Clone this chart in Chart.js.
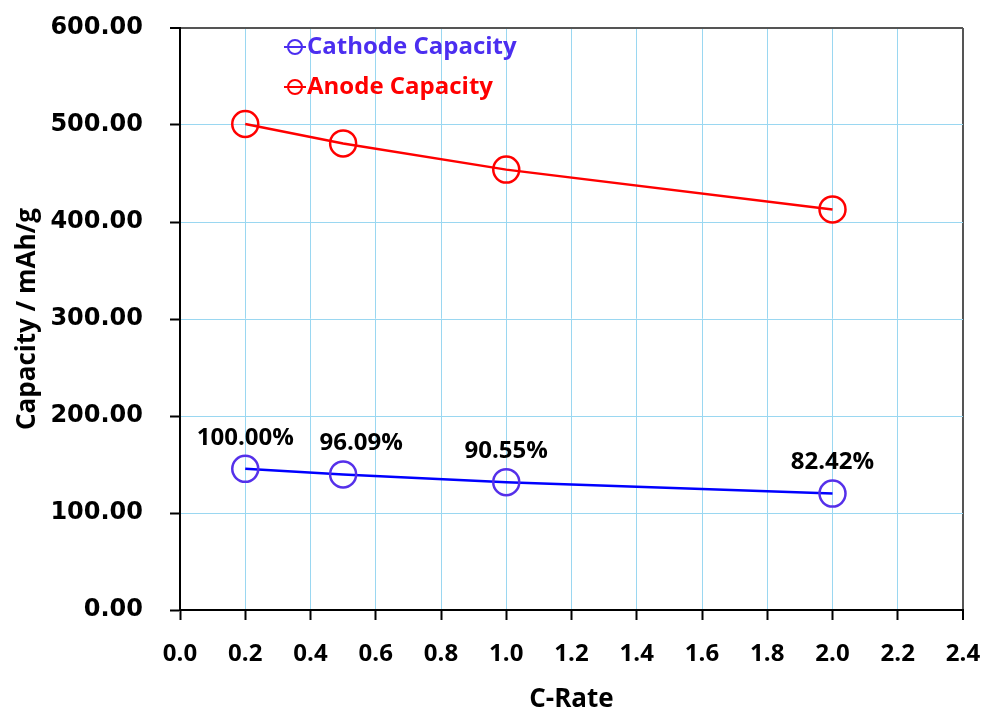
<!DOCTYPE html>
<html>
<head>
<meta charset="utf-8">
<script src="https://cdn.jsdelivr.net/npm/chart.js@4"></script>
<style>
    html, body { margin: 0; padding: 0; background: #fff; }
    #wrap { width: 987px; height: 711px; }
</style>
</head>
<body>
<div id="wrap"><canvas id="rateChart" width="987" height="711"></canvas></div>
<script>
// data
const cRate = [0.2, 0.5, 1.0, 2.0];
const cathodeCapacity = [145.5, 139.8, 131.8, 120.0];
const anodeCapacity = [501, 481, 454, 413];
const retentionLabels = ['100.00%', '96.09%', '90.55%', '82.42%'];
const seriesNames = ['Cathode Capacity', 'Anode Capacity'];

const xAxisTitle = 'C-Rate';
const yAxisTitle = 'Capacity / mAh/g';

const SANS = "'Open Sans', 'Noto Sans', sans-serif";
const GRID_BLUE = '#9ad7f1';
const BORDER_GREY = '#555555';

// label nudges (style only)
const labelDx = [0, 18, 0, 0];
const LABEL_DY = -31;

function toPoints(xs, ys) {
    return xs.map((x, i) => ({ x: x, y: ys[i] }));
}

// legend drawn inside the plot, like the original
const insideLegend = {
    id: 'insideLegend',
    afterDraw(chart) {
        const ctx = chart.ctx;
        const x0 = 295;
        const rows = [47, 87];
        ctx.save();
        chart.data.datasets.forEach((ds, i) => {
            const y = rows[i];
            ctx.strokeStyle = ds.legendColor;
            ctx.lineWidth = 2;
            ctx.beginPath();
            ctx.moveTo(x0 - 11, y);
            ctx.lineTo(x0 + 11, y);
            ctx.stroke();
            ctx.beginPath();
            ctx.arc(x0, y, 7, 0, Math.PI * 2);
            ctx.stroke();
            ctx.fillStyle = ds.legendColor;
            ctx.font = 'bold 24px ' + SANS;
            ctx.textAlign = 'left';
            ctx.textBaseline = 'middle';
            ctx.fillText(ds.label, x0 + 12, y);
        });
        ctx.restore();
    }
};

const retentionText = {
    id: 'retentionText',
    afterDatasetsDraw(chart) {
        const ctx = chart.ctx;
        const meta = chart.getDatasetMeta(0);
        ctx.save();
        ctx.fillStyle = '#000';
        ctx.font = 'bold 24px ' + SANS;
        ctx.textAlign = 'center';
        ctx.textBaseline = 'middle';
        meta.data.forEach((pt, i) => {
            ctx.fillText(retentionLabels[i], pt.x + labelDx[i], pt.y + LABEL_DY);
        });
        ctx.restore();
    }
};

const canvas = document.querySelector('#rateChart');
const chart = new Chart(canvas, {
    type: 'scatter',
    data: {
        datasets: [
            {
                label: seriesNames[0],
                data: toPoints(cRate, cathodeCapacity),
                showLine: true,
                borderColor: '#0000ff',
                borderWidth: 2.5,
                pointBorderColor: '#5530ea',
                pointBackgroundColor: 'rgba(0,0,0,0)',
                pointRadius: 13,
                pointHoverRadius: 13,
                pointBorderWidth: 2.5,
                legendColor: '#4b2ef0'
            },
            {
                label: seriesNames[1],
                data: toPoints(cRate, anodeCapacity),
                showLine: true,
                borderColor: '#ff0000',
                borderWidth: 2.5,
                pointBorderColor: '#ff0000',
                pointBackgroundColor: 'rgba(0,0,0,0)',
                pointRadius: 13,
                pointHoverRadius: 13,
                pointBorderWidth: 2.5,
                legendColor: '#ff0000'
            }
        ]
    },
    options: {
        responsive: false,
        animation: false,
        layout: { padding: { top: 28, right: 24, left: 0, bottom: 0 } },
        plugins: {
            legend: { display: false },
            tooltip: { enabled: false }
        },
        scales: {
            x: {
                type: 'linear',
                min: 0,
                max: 2.4,
                afterFit: (scale) => {
                    scale.height = 101;
                    scale.paddingLeft = 0;
                    scale.paddingRight = 0;
                },
                border: { display: true, color: '#000', width: 2 },
                grid: {
                    color: (c) => (c.tick && Math.abs(c.tick.value - 2.4) < 1e-9) ? BORDER_GREY : GRID_BLUE,
                    lineWidth: (c) => (c.tick && Math.abs(c.tick.value - 2.4) < 1e-9) ? 2 : 1,
                    tickColor: '#000',
                    tickLength: 10,
                    tickWidth: 2
                },
                ticks: {
                    stepSize: 0.2,
                    padding: 20,
                    color: '#000',
                    font: { family: SANS, size: 24, weight: 'bold' },
                    callback: (v) => (+v).toFixed(1)
                },
                title: {
                    display: true,
                    text: xAxisTitle,
                    color: '#000',
                    font: { family: SANS, size: 26, weight: 'bold' },
                    padding: { top: 0, bottom: -4 }
                }
            },
            y: {
                type: 'linear',
                min: 0,
                max: 600,
                afterFit: (scale) => {
                    scale.width = 180;
                    scale.paddingTop = 0;
                    scale.paddingBottom = 0;
                },
                border: { display: true, color: '#000', width: 2 },
                grid: {
                    color: (c) => (c.tick && c.tick.value === 600) ? BORDER_GREY : GRID_BLUE,
                    lineWidth: (c) => (c.tick && c.tick.value === 600) ? 2 : 1,
                    tickColor: '#000',
                    tickLength: 10,
                    tickWidth: 2
                },
                ticks: {
                    stepSize: 100,
                    padding: 27,
                    color: '#000',
                    font: { family: "'DejaVu Sans', sans-serif", size: 24, weight: 'bold' },
                    callback: (v) => (+v).toFixed(2)
                },
                title: {
                    display: true,
                    text: yAxisTitle,
                    color: '#000',
                    font: { family: SANS, size: 26, weight: 'bold' },
                    padding: { top: 12, bottom: 0 }
                }
            }
        }
    },
    plugins: [insideLegend, retentionText]
});
</script>
</body>
</html>
